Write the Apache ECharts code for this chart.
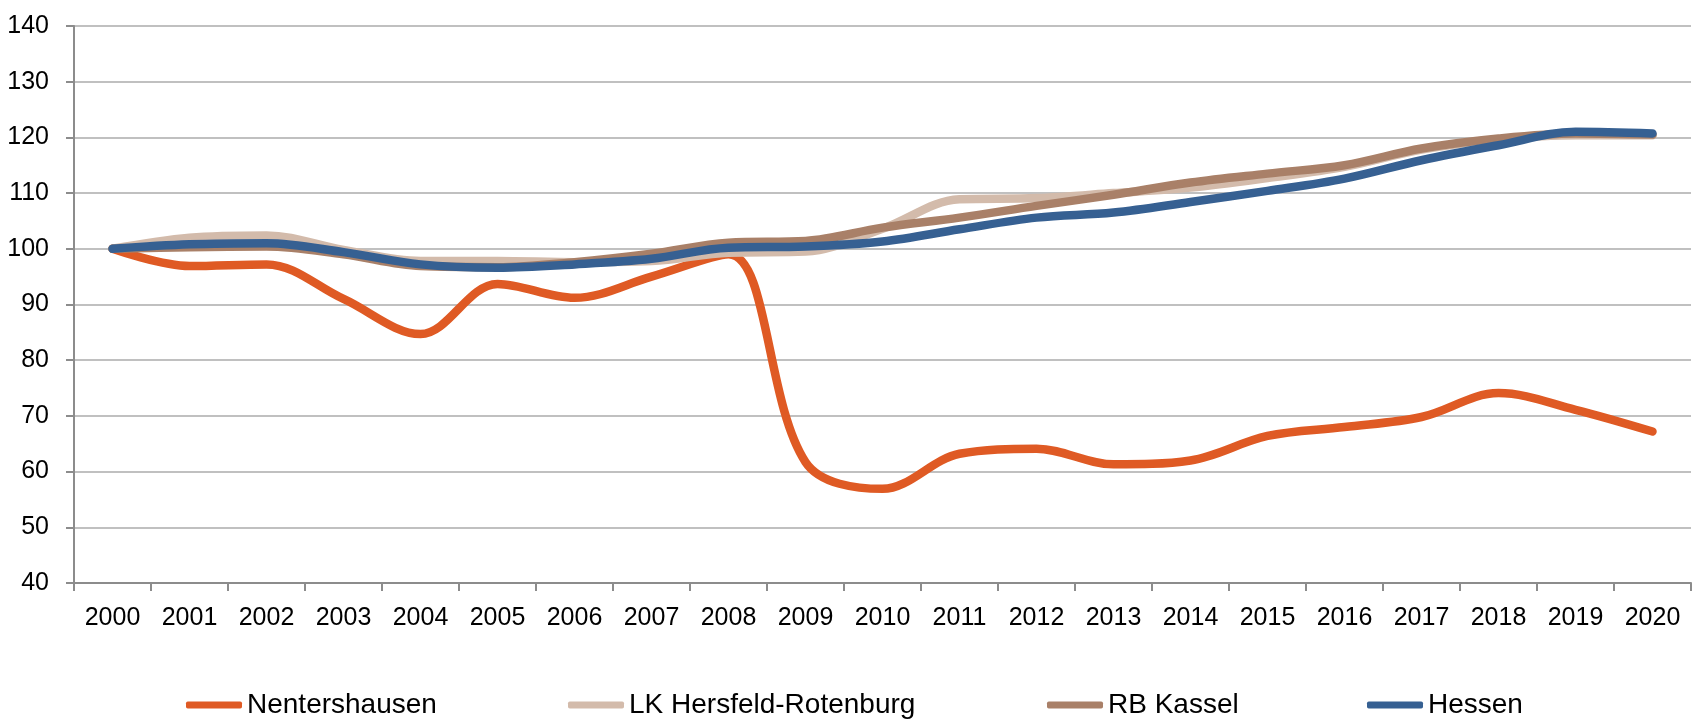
<!DOCTYPE html>
<html>
<head>
<meta charset="utf-8">
<script src="https://cdn.jsdelivr.net/npm/echarts@6/dist/echarts.min.js"></script>
<style>
  html, body { margin: 0; padding: 0; background: #ffffff; }
  #chart { width: 1693px; height: 724px; }
</style>
</head>
<body>
<div id="chart"></div>
<script>
// Index values (2000 = 100)
const years = ['2000','2001','2002','2003','2004','2005','2006','2007','2008','2009','2010',
               '2011','2012','2013','2014','2015','2016','2017','2018','2019','2020'];

const nentershausen = [100, 96.9, 97.2, 91.0, 84.7, 93.7, 91.2, 95.0, 99.0, 61.7, 56.9,
                       63.2, 64.1, 61.3, 62.0, 66.4, 68.0, 69.8, 74.1, 71.1, 67.2];
const lkHersfeld    = [100, 102.0, 102.4, 99.8, 97.8, 97.8, 97.6, 97.8, 99.3, 99.5, 103.6,
                       108.9, 109.1, 110.0, 111.0, 112.7, 114.7, 117.8, 119.6, 120.4, 120.4];
const rbKassel      = [100, 100.3, 100.4, 99.0, 96.9, 96.7, 97.6, 99.1, 101.1, 101.4, 103.8,
                       105.6, 107.7, 109.7, 111.9, 113.5, 115.0, 118.0, 119.8, 120.7, 120.5];
const hessen        = [100, 100.8, 101.0, 99.4, 97.2, 96.6, 97.2, 98.2, 100.2, 100.4, 101.3,
                       103.5, 105.6, 106.5, 108.4, 110.4, 112.6, 115.9, 118.6, 121.0, 120.7];

const seriesNames  = ['Nentershausen', 'LK Hersfeld-Rotenburg', 'RB Kassel', 'Hessen'];
const seriesValues = [nentershausen, lkHersfeld, rbKassel, hessen];
const seriesColors = ['#DF5A24', '#D3BBAB', '#A98068', '#366092'];
const legendLeft   = [181, 563, 1042, 1362];

const FONT = '"Liberation Sans", Arial, Helvetica, sans-serif';

const chart = echarts.init(document.getElementById('chart'), null, { renderer: 'canvas' });

// one legend block per series so each entry sits at its own column
const legends = seriesNames.map((name, i) => ({
  data: [name],
  left: legendLeft[i],
  top: 686,
  icon: 'roundRect',
  itemWidth: 56,
  itemHeight: 7,
  textStyle: { fontFamily: FONT, fontSize: 28, color: '#000000' }
}));

chart.setOption({
  animation: false,
  backgroundColor: '#ffffff',
  legend: legends,
  grid: { left: 74, right: 2, top: 26, bottom: 141 },
  xAxis: {
    type: 'category',
    data: years,
    boundaryGap: true,
    axisLine: { show: true, lineStyle: { color: '#8C8C8C', width: 2 } },
    axisTick: { show: true, length: 8, lineStyle: { color: '#8C8C8C', width: 2 } },
    axisLabel: { interval: 0, margin: 23, fontFamily: FONT, fontSize: 25, color: '#000000' },
    splitLine: { show: false }
  },
  yAxis: {
    type: 'value',
    min: 40,
    max: 140,
    interval: 10,
    axisLine: { show: true, lineStyle: { color: '#8C8C8C', width: 2 } },
    axisTick: { show: true, length: 8, lineStyle: { color: '#8C8C8C', width: 2 } },
    axisLabel: { margin: 25, fontFamily: FONT, fontSize: 25, color: '#000000' },
    splitLine: { show: true, lineStyle: { color: '#ABABAB', width: 1.5 } }
  },
  series: seriesNames.map((name, i) => ({
    name: name,
    type: 'line',
    data: seriesValues[i],
    smooth: 0.35,
    showSymbol: false,
    symbol: 'none',
    color: seriesColors[i],
    lineStyle: { width: 8.5, color: seriesColors[i], cap: 'round', join: 'round' },
    emphasis: { disabled: true }
  }))
});
</script>
</body>
</html>
